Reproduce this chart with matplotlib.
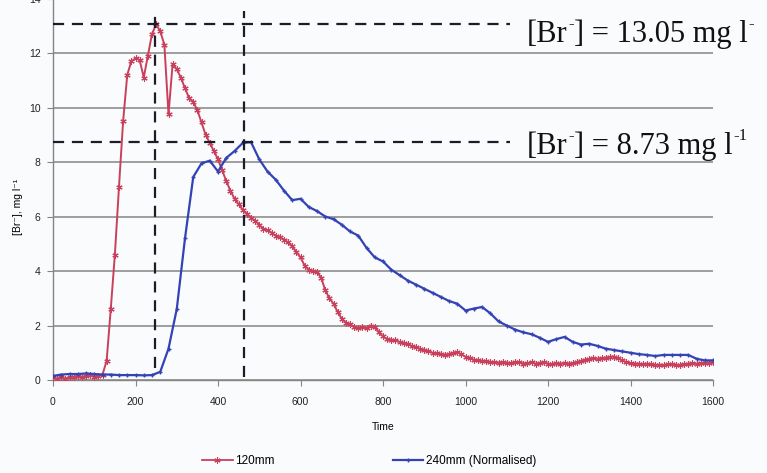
import numpy as np
import matplotlib
matplotlib.use("Agg")
import matplotlib.pyplot as plt
from matplotlib.lines import Line2D

# 120 mm column, sampled every 10 s
br_120 = [
    0.10, 0.05, 0.10, 0.05, 0.10, 0.12, 0.15, 0.10, 0.15, 0.18,
    0.12, 0.15, 0.20, 0.70, 2.60, 4.60, 7.10, 9.50, 11.20, 11.70,
    11.80, 11.75, 11.10, 11.90, 12.70, 13.05, 12.80, 12.30, 9.75, 11.60,
    11.40, 11.10, 10.70, 10.35, 10.20, 9.90, 9.45, 9.00, 8.70, 8.40,
    8.10, 7.70, 7.30, 6.95, 6.65, 6.45, 6.25, 6.10, 5.95, 5.85,
    5.70, 5.55, 5.50, 5.40, 5.30, 5.25, 5.15, 5.05, 4.90, 4.70,
    4.50, 4.20, 4.05, 4.00, 3.98, 3.75, 3.30, 3.00, 2.80, 2.50,
    2.25, 2.10, 2.05, 1.95, 1.90, 1.95, 1.90, 2.00, 1.95, 1.75,
    1.60, 1.50, 1.48, 1.45, 1.40, 1.35, 1.32, 1.25, 1.20, 1.15,
    1.10, 1.05, 1.00, 0.98, 0.95, 0.92, 0.95, 1.00, 1.02, 0.95,
    0.85, 0.80, 0.75, 0.72, 0.70, 0.68, 0.66, 0.65, 0.64, 0.66,
    0.63, 0.62, 0.65, 0.66, 0.60, 0.62, 0.65, 0.60, 0.63, 0.65,
    0.60, 0.58, 0.62, 0.60, 0.63, 0.60, 0.62, 0.65, 0.70, 0.75,
    0.78, 0.80, 0.78, 0.80, 0.82, 0.85, 0.86, 0.80, 0.72, 0.65,
    0.62, 0.60, 0.60, 0.58, 0.60, 0.57, 0.55, 0.56, 0.55, 0.57,
    0.58, 0.56, 0.55, 0.58, 0.60, 0.62, 0.60, 0.63, 0.62, 0.64,
    0.65,
]
t_120 = np.arange(len(br_120)) * 10

# 240 mm column (normalised), sampled every 20 s
br_240 = [
    0.15, 0.20, 0.22, 0.22, 0.24, 0.22, 0.20, 0.20, 0.18, 0.18,
    0.18, 0.17, 0.18, 0.30, 1.15, 2.60, 5.20, 7.45, 7.95, 8.05,
    7.65, 8.15, 8.40, 8.70, 8.73, 8.10, 7.65, 7.35, 6.95, 6.60,
    6.65, 6.35, 6.20, 6.00, 5.90, 5.70, 5.45, 5.30, 4.85, 4.50,
    4.35, 4.05, 3.85, 3.65, 3.50, 3.35, 3.20, 3.05, 2.90, 2.80,
    2.55, 2.62, 2.68, 2.45, 2.15, 2.00, 1.85, 1.75, 1.68, 1.55,
    1.40, 1.50, 1.58, 1.40, 1.30, 1.33, 1.25, 1.15, 1.10, 1.05,
    1.00, 0.95, 0.92, 0.88, 0.92, 0.92, 0.92, 0.92, 0.78, 0.72,
    0.72,
]
t_240 = np.arange(len(br_240)) * 20

peak_120 = 13.05
peak_240 = 8.73
peak_time_120 = 247
peak_time_240 = 463

x_ticks = [0, 200, 400, 600, 800, 1000, 1200, 1400, 1600]
y_ticks = [0, 2, 4, 6, 8, 10, 12, 14]

RED = "#c8405c"
BLUE = "#3342b4"
GRID = "#858585"
DASH = "#1c1c28"

W, H = 767, 473
fig = plt.figure(figsize=(W / 100, H / 100), dpi=100)
fig.patch.set_facecolor("#fafbfc")
ax = fig.add_axes([53 / W, 93 / H, 660 / W, 381.5 / H])
ax.set_facecolor("#fafbfc")

ax.set_xlim(0, 1600)
ax.set_ylim(0, 14)
ax.set_xticks(x_ticks)
ax.set_yticks(y_ticks)
ax.yaxis.grid(True, color=GRID, lw=1.1)
ax.set_axisbelow(True)
for side in ("top", "right"):
    ax.spines[side].set_visible(False)
for side in ("left", "bottom"):
    ax.spines[side].set_color(GRID)
    ax.spines[side].set_linewidth(1.0)
ax.tick_params(direction="out", length=4, color=GRID, labelsize=7.5,
               labelcolor="#222222")
ax.tick_params(axis="x", pad=8)
ax.tick_params(axis="y", pad=5)
for lab in ax.get_xticklabels() + ax.get_yticklabels():
    lab.set_family("Liberation Sans")

ax.plot(t_120, br_120, color=RED, lw=1.4, marker=(6, 2, 0), ms=4.5,
        mew=0.8, zorder=3)
ax.plot(t_240, br_240, color=BLUE, lw=1.6, marker="+", ms=3.5,
        mew=1.0, zorder=3)

# peak guide lines
dash_kw = dict(color=DASH, lw=1.6, dashes=(5, 3.5), zorder=4, clip_on=False)
ax.plot([0, 1108], [peak_120, peak_120], **dash_kw)
ax.plot([0, 1108], [peak_240, peak_240], **dash_kw)
ax.plot([peak_time_120, peak_time_120], [0.45, 13.55], **dash_kw)
ax.plot([peak_time_240, peak_time_240], [0.1, 13.55], **dash_kw)


def rich_label(x, y, pieces, size=22):
    """Draw text pieces in a row; pieces flagged True are superscripts."""
    kw = dict(family="Liberation Serif", color="#111111",
              annotation_clip=False)
    base = ax.annotate(pieces[0][0], xy=(x, y), xycoords="data",
                       fontsize=size, va="bottom", ha="left", **kw)
    prev = base
    for s, sup in pieces[1:]:
        if sup:
            prev = ax.annotate(s, xy=(1, 0.58), xycoords=(prev, base),
                               xytext=(0.5, 0), textcoords="offset points",
                               fontsize=size * 0.55, va="bottom", ha="left",
                               **kw)
        else:
            prev = ax.annotate(s, xy=(1, 0), xycoords=(prev, base),
                               fontsize=size, va="bottom", ha="left", **kw)
    return base


rich_label(1149, 12.15, [("[Br", False), ("-", True),
                         ("] = 13.05 mg l", False), ("-", True)])
rich_label(1149, 8.03, [("[Br", False), ("-", True),
                        ("] = 8.73 mg l", False), ("-1", True)])

ax.set_xlabel("Time", family="Liberation Sans", fontsize=7.5, labelpad=11)
fig.text(18 / W, 1 - 207 / H, "[Br\u207b], mg l\u207b\u00b9",
         rotation=90, ha="center", va="center",
         family=["Liberation Sans", "DejaVu Sans"], fontsize=7.5)

handles = [
    Line2D([], [], color=RED, lw=1.3, marker=(6, 2, 0), ms=4.5, mew=0.8),
    Line2D([], [], color=BLUE, lw=1.6, marker="+", ms=3.5, mew=1.0),
]
leg = fig.legend(handles, ["120mm", "240mm (Normalised)"], loc="center",
                 bbox_to_anchor=(369 / W, 12 / H), ncol=2, frameon=False,
                 handlelength=2.6, columnspacing=10, handletextpad=0.2,
                 prop={"family": "Liberation Sans", "size": 8.5})

fig.savefig("out.png", dpi=100, facecolor=fig.get_facecolor())
